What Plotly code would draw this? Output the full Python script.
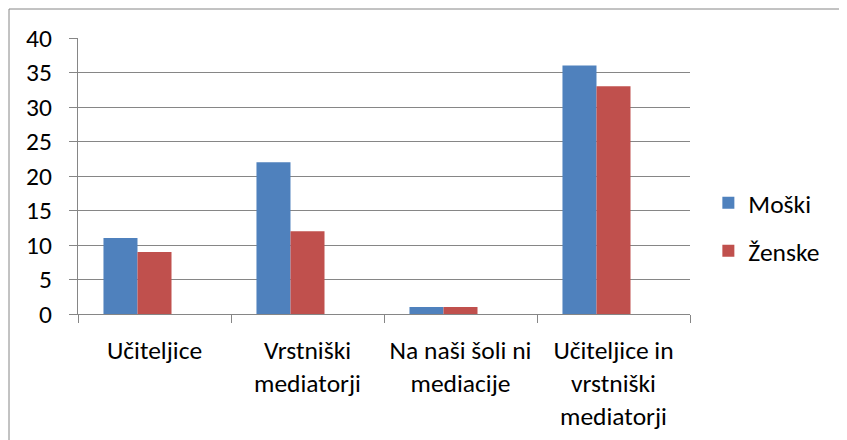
import plotly.graph_objects as go

categories = ["Učiteljice", "Vrstniški<br>mediatorji", "Na naši šoli ni<br>mediacije",
              "Učiteljice in<br>vrstniški<br>mediatorji"]
moski = [11, 22, 1, 36]
zenske = [9, 12, 1, 33]
empty_series = [None, None, None, None]  # third (empty) series in the original workbook
y_ticks = [0, 5, 10, 15, 20, 25, 30, 35, 40]

font_family = "Calibri, Carlito, Liberation Sans, Arial, sans-serif"
grid_col = "#868686"

fig = go.Figure()
fig.add_trace(go.Bar(x=categories, y=moski, name="Moški",
                     marker=dict(color="#4F81BD", line=dict(width=0)),
                     legendgroup="a"))
fig.add_trace(go.Bar(x=categories, y=zenske, name="Ženske",
                     marker=dict(color="#C0504D", line=dict(width=0)),
                     legendgroup="b"))
fig.add_trace(go.Bar(x=categories, y=empty_series, name="", showlegend=False,
                     marker=dict(color="rgba(0,0,0,0)")))

# page body has an 8px margin, so the figure is 8px smaller and shifted
fig.update_layout(
    width=839, height=432,
    margin=dict(l=70, r=157, t=30, b=126),
    paper_bgcolor="white", plot_bgcolor="white",
    font=dict(family=font_family, size=25.5, color="black"),
    barmode="group", bargap=0.333, bargroupgap=0,
    showlegend=True,
    legend=dict(x=1.03, y=0.315, xanchor="left", yanchor="middle",
                tracegroupgap=12, font=dict(size=25.5), itemwidth=30),
)
fig.update_xaxes(showline=True, linecolor=grid_col, linewidth=1,
                 ticks="outside", tickson="boundaries", ticklen=8,
                 tickcolor=grid_col, showgrid=False, automargin=False,
                 ticklabelstandoff=13)
fig.update_yaxes(range=[0, 40], tickvals=y_ticks, showline=True,
                 linecolor=grid_col, linewidth=1, ticks="outside", ticklen=8,
                 tickcolor=grid_col, showgrid=True, gridcolor=grid_col,
                 gridwidth=1, zeroline=False, ticklabelstandoff=12,
                 automargin=False)

# chart frame (only top and left edges fall inside the picture)
fig.add_shape(type="rect", xref="paper", yref="paper",
              x0=(9 - 78) / 612, x1=1.5, y0=-0.6, y1=(314 - 9) / 276,
              line=dict(color=grid_col, width=1), layer="below")

fig.write_html("out.html")
